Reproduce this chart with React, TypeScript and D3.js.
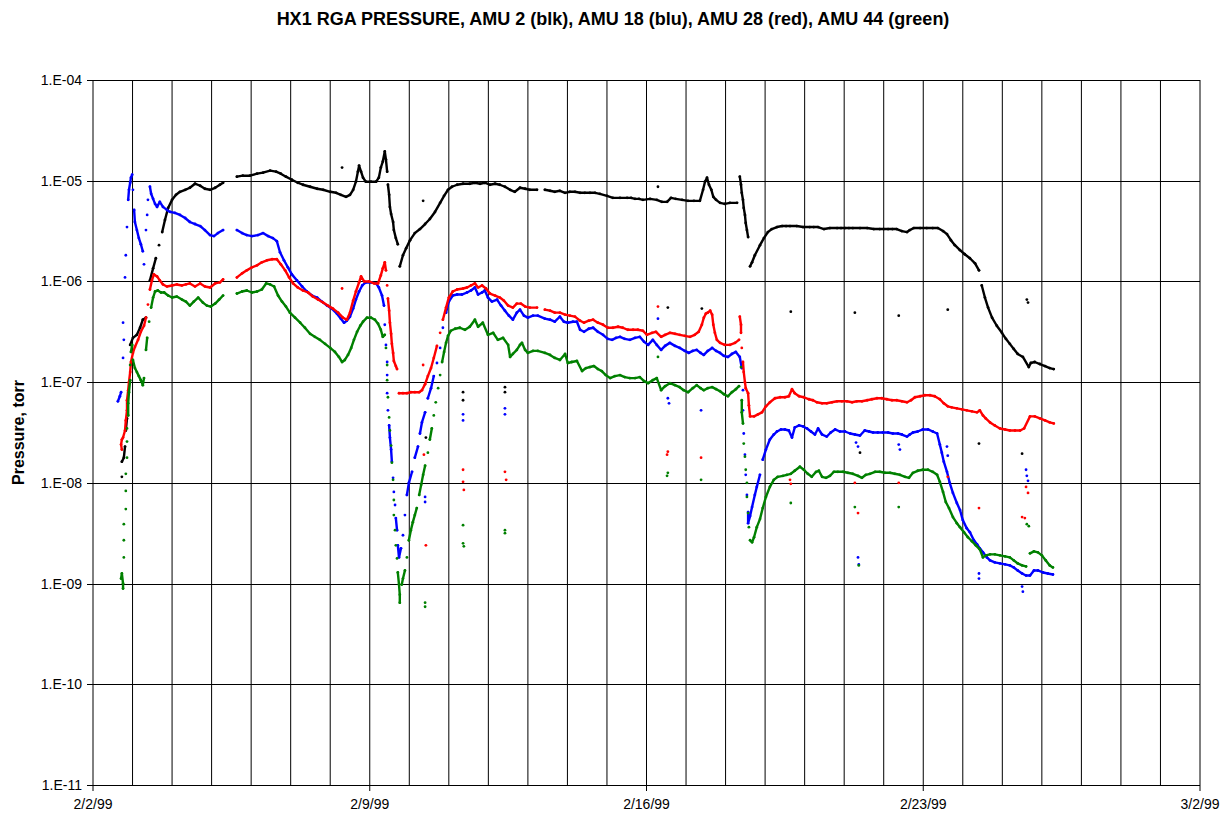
import React from "react";
import * as d3 from "d3";

// x: days since 2/2/99 00:00, y: log10(pressure, torr)
const xTickDays = [0, 7, 14, 21, 28];
const xTickLabels = ["2/2/99", "2/9/99", "2/16/99", "2/23/99", "3/2/99"];
const yTickValues = [1e-4, 1e-5, 1e-6, 1e-7, 1e-8, 1e-9, 1e-10, 1e-11];
const yTickLabels = ["1.E-04", "1.E-05", "1.E-06", "1.E-07", "1.E-08", "1.E-09", "1.E-10", "1.E-11"];
const titleText = "HX1 RGA PRESSURE, AMU 2 (blk), AMU 18 (blu), AMU 28 (red), AMU 44 (green)";
const yAxisTitle = "Pressure, torr";

// AMU 2 (black)
const amu2: [number, number][] = [
  [0.73,-7.94],[0.73,-7.79],[0.78,-7.75],[0.81,-7.64],[0.83,-7.48],[0.86,-7.36],[0.94,-6.63],[1.01,-6.56],[1.11,-6.53],[1.19,-6.46],[1.26,-6.38],[1.34,-6.36],
  [1.44,-5.99],[1.52,-5.87],[1.59,-5.77],[1.67,-5.64],[1.75,-5.51],[1.82,-5.39],[1.90,-5.27],[2.00,-5.19],[2.10,-5.14],[2.20,-5.11],[2.33,-5.09],[2.45,-5.07],
  [2.58,-5.03],[2.71,-5.05],[2.83,-5.08],[2.96,-5.09],[3.09,-5.07],[3.21,-5.04],[3.29,-5.02],
  [3.64,-4.96],[3.79,-4.95],[3.97,-4.95],[4.15,-4.93],[4.30,-4.92],[4.48,-4.90],[4.63,-4.91],[4.75,-4.93],[4.88,-4.96],[5.03,-4.99],[5.18,-5.02],[5.31,-5.04],
  [5.49,-5.06],[5.67,-5.08],[5.82,-5.09],[6.00,-5.11],[6.15,-5.12],[6.27,-5.14],[6.40,-5.16],[6.50,-5.14],[6.58,-5.09],[6.65,-5.01],[6.70,-4.91],[6.73,-4.85],
  [6.78,-4.91],[6.83,-4.97],[6.90,-5.01],[7.03,-5.01],[7.16,-5.01],[7.23,-4.97],[7.28,-4.87],[7.33,-4.81],[7.38,-4.71],[7.41,-4.79],[7.44,-4.91],
  [7.46,-5.04],[7.49,-5.14],[7.51,-5.26],[7.54,-5.33],[7.59,-5.41],[7.61,-5.49],[7.66,-5.57],[7.71,-5.63],
  [7.76,-5.85],[7.84,-5.74],[7.92,-5.67],[8.02,-5.59],[8.14,-5.52],[8.27,-5.48],[8.40,-5.43],[8.52,-5.38],[8.65,-5.31],[8.78,-5.22],[8.88,-5.15],[8.98,-5.09],
  [9.08,-5.06],[9.21,-5.04],[9.36,-5.03],[9.53,-5.03],[9.66,-5.02],[9.79,-5.03],[9.91,-5.02],[10.04,-5.04],[10.17,-5.03],[10.29,-5.04],[10.42,-5.06],[10.55,-5.09],
  [10.67,-5.11],[10.80,-5.07],[10.93,-5.08],[11.05,-5.09],[11.23,-5.09],
  [11.43,-5.09],[11.56,-5.10],[11.68,-5.11],[11.81,-5.10],[11.94,-5.12],[12.06,-5.11],[12.19,-5.11],[12.32,-5.12],[12.44,-5.12],[12.57,-5.12],[12.70,-5.12],
  [12.82,-5.13],[13.00,-5.15],[13.15,-5.17],[13.33,-5.17],[13.51,-5.17],[13.61,-5.17],[13.71,-5.18],[13.81,-5.18],[13.91,-5.19],[14.09,-5.18],[14.26,-5.19],
  [14.39,-5.21],[14.52,-5.21],
  [14.62,-5.17],[14.74,-5.18],[14.90,-5.19],[15.05,-5.20],[15.20,-5.20],[15.35,-5.20],
  [15.43,-5.09],[15.48,-5.01],[15.53,-4.97],[15.58,-5.04],[15.64,-5.09],[15.69,-5.16],
  [15.76,-5.19],[15.86,-5.22],[15.98,-5.23],[16.11,-5.22],[16.29,-5.22],
  [16.36,-4.96],[16.39,-5.04],[16.41,-5.12],[16.44,-5.19],[16.46,-5.27],[16.49,-5.34],[16.51,-5.42],[16.54,-5.49],[16.57,-5.56],
  [16.62,-5.85],[16.67,-5.81],[16.74,-5.74],[16.87,-5.64],[16.97,-5.57],[17.07,-5.51],[17.17,-5.48],[17.30,-5.46],[17.43,-5.45],[17.53,-5.45],[17.63,-5.45],
  [17.80,-5.45],[17.96,-5.46],[18.13,-5.46],[18.23,-5.46],[18.34,-5.46],[18.49,-5.48],[18.64,-5.47],[18.82,-5.47],[18.92,-5.47],[19.02,-5.47],[19.12,-5.47],
  [19.22,-5.47],[19.40,-5.47],[19.58,-5.47],[19.75,-5.48],[19.90,-5.48],[20.00,-5.48],[20.11,-5.48],[20.22,-5.48],[20.33,-5.48],[20.46,-5.50],[20.59,-5.51],
  [20.66,-5.49],[20.76,-5.47],[20.92,-5.47],[21.09,-5.47],[21.24,-5.47],[21.37,-5.47],
  [21.50,-5.50],[21.60,-5.53],[21.70,-5.59],[21.80,-5.64],[21.93,-5.69],[22.05,-5.73],[22.18,-5.77],[22.31,-5.82],[22.41,-5.89],
  [22.48,-6.04],[22.56,-6.16],[22.64,-6.26],[22.74,-6.36],[22.86,-6.44],[22.99,-6.51],[23.09,-6.57],[23.19,-6.62],[23.29,-6.67],[23.39,-6.72],[23.52,-6.75],
  [23.67,-6.85],[23.72,-6.81],[23.82,-6.80],[23.95,-6.82],[24.08,-6.84],[24.20,-6.86],[24.30,-6.87],
];
const amu2Isolated: [number, number][] = [
  [6.30,-4.87],[8.35,-5.20],[8.42,-7.55],[9.36,-7.10],[9.36,-7.18],[10.42,-7.05],[10.42,-7.10],[14.29,-5.06],[14.54,-6.26],[15.40,-6.27],
  [17.65,-6.30],[19.27,-6.31],[19.40,-7.70],[20.38,-6.34],[21.62,-6.28],[23.62,-6.18],[23.65,-6.21],[22.41,-7.61],[23.50,-7.71],
];

// AMU 18 (blue)
const amu18: [number, number][] = [
  [0.63,-7.19],[0.68,-7.14],[0.71,-7.10],[0.76,-6.76],[0.78,-6.58],[0.76,-6.41],[0.81,-5.96],[0.83,-5.74],[0.86,-5.46],[0.89,-5.19],[0.91,-5.09],[0.94,-5.02],
  [0.96,-4.97],[0.99,-4.94],[1.01,-5.09],[1.04,-5.29],[1.06,-5.41],[1.11,-5.49],[1.16,-5.57],[1.21,-5.63],[1.26,-5.70],[1.29,-5.83],[1.34,-5.49],[1.37,-5.34],
  [1.39,-5.19],[1.44,-5.06],[1.47,-5.13],[1.52,-5.18],[1.57,-5.23],
  [1.62,-5.26],[1.69,-5.21],[1.77,-5.26],[1.87,-5.29],[1.95,-5.31],[2.07,-5.32],[2.20,-5.34],[2.33,-5.37],[2.45,-5.41],[2.58,-5.43],[2.71,-5.45],[2.83,-5.49],
  [2.96,-5.54],[3.06,-5.55],[3.16,-5.52],[3.29,-5.49],
  [3.64,-5.49],[3.77,-5.52],[3.89,-5.54],[4.02,-5.55],[4.17,-5.54],[4.30,-5.52],[4.43,-5.55],[4.55,-5.57],[4.65,-5.60],[4.73,-5.71],[4.83,-5.79],[4.93,-5.86],
  [5.03,-5.93],[5.16,-5.99],[5.29,-6.05],[5.41,-6.10],[5.54,-6.14],[5.67,-6.16],[5.79,-6.20],[5.92,-6.24],[6.04,-6.27],[6.17,-6.32],[6.27,-6.37],[6.35,-6.41],
  [6.42,-6.39],[6.50,-6.35],[6.58,-6.27],[6.65,-6.18],[6.73,-6.10],[6.81,-6.04],[6.90,-6.01],[7.03,-6.01],[7.16,-6.02],[7.23,-6.06],[7.31,-6.14],[7.36,-6.24],
  [7.38,-6.43],[7.41,-6.63],[7.44,-6.80],[7.44,-6.93],[7.44,-7.11],[7.46,-7.28],[7.49,-7.43],[7.51,-7.55],[7.54,-7.67],[7.56,-7.79],[7.59,-7.95],[7.61,-8.09],
  [7.64,-8.22],[7.66,-8.35],[7.69,-8.47],[7.71,-8.62],[7.74,-8.74],[7.79,-8.65],[7.84,-8.52],[7.89,-8.32],[7.94,-8.12],[7.99,-8.00],[8.07,-7.89],[8.14,-7.75],
  [8.22,-7.64],[8.27,-7.51],[8.32,-7.40],[8.40,-7.30],[8.47,-7.16],[8.55,-7.06],[8.62,-6.94],[8.70,-6.81],[8.78,-6.66],[8.85,-6.46],[8.93,-6.31],[9.00,-6.20],
  [9.10,-6.14],[9.21,-6.13],[9.33,-6.13],[9.46,-6.11],[9.56,-6.09],[9.66,-6.06],[9.74,-6.13],[9.84,-6.11],[9.91,-6.09],[9.99,-6.16],[10.09,-6.20],[10.22,-6.18],
  [10.32,-6.24],[10.42,-6.29],[10.52,-6.34],[10.62,-6.38],[10.72,-6.31],[10.80,-6.28],[10.90,-6.34],[11.00,-6.36],[11.13,-6.34],[11.25,-6.34],
  [11.43,-6.37],[11.56,-6.38],[11.68,-6.40],[11.81,-6.35],[11.91,-6.40],[12.01,-6.41],[12.14,-6.40],[12.24,-6.40],[12.32,-6.48],[12.42,-6.50],[12.54,-6.47],
  [12.65,-6.46],[12.77,-6.50],[12.90,-6.53],[13.02,-6.57],[13.13,-6.58],[13.23,-6.56],[13.33,-6.55],[13.45,-6.57],[13.58,-6.58],[13.71,-6.56],[13.83,-6.55],
  [13.94,-6.60],[14.04,-6.63],[14.16,-6.58],[14.26,-6.63],
  [14.37,-6.68],[14.47,-6.64],[14.59,-6.61],[14.72,-6.64],[14.84,-6.66],[14.97,-6.69],[15.07,-6.71],[15.17,-6.69],[15.27,-6.68],[15.37,-6.71],[15.45,-6.73],
  [15.55,-6.69],[15.66,-6.66],[15.76,-6.69],[15.86,-6.71],[15.96,-6.74],[16.06,-6.75],[16.16,-6.72],[16.26,-6.70],[16.36,-6.75],
  [16.41,-6.86],[16.44,-7.08],[16.44,-7.28],[16.46,-7.51],[16.49,-7.72],[16.51,-7.92],[16.54,-8.12],[16.57,-8.29],[16.57,-8.40],[16.62,-8.33],[16.67,-8.24],
  [16.74,-8.12],[16.79,-8.04],[16.87,-7.92],[16.94,-7.77],[17.02,-7.67],[17.12,-7.57],[17.22,-7.52],[17.30,-7.49],[17.40,-7.47],[17.50,-7.47],[17.60,-7.48],
  [17.68,-7.55],[17.75,-7.45],[17.86,-7.43],[17.96,-7.44],[18.06,-7.46],[18.16,-7.49],[18.26,-7.52],[18.34,-7.46],[18.44,-7.52],[18.56,-7.54],[18.66,-7.50],
  [18.77,-7.47],[18.89,-7.49],[19.02,-7.49],[19.15,-7.51],[19.27,-7.52],[19.40,-7.53],[19.52,-7.48],[19.63,-7.49],[19.73,-7.50],[19.85,-7.50],[19.98,-7.50],
  [20.11,-7.50],[20.23,-7.51],[20.36,-7.51],[20.46,-7.52],[20.59,-7.54],[20.66,-7.52],[20.74,-7.50],[20.86,-7.49],[20.99,-7.47],[21.12,-7.47],[21.24,-7.49],
  [21.35,-7.51],[21.42,-7.62],[21.47,-7.70],[21.52,-7.79],[21.60,-7.89],[21.67,-8.00],[21.75,-8.10],[21.85,-8.20],[21.93,-8.27],[22.00,-8.37],[22.10,-8.45],
  [22.18,-8.49],[22.28,-8.57],[22.36,-8.61],[22.43,-8.65],[22.51,-8.69],[22.61,-8.74],[22.69,-8.77],[22.81,-8.79],[22.94,-8.80],[23.07,-8.81],[23.19,-8.82],
  [23.29,-8.84],[23.39,-8.87],[23.50,-8.90],[23.60,-8.92],[23.70,-8.92],[23.80,-8.87],[23.90,-8.87],[24.03,-8.89],[24.15,-8.90],[24.28,-8.91],
];
const amu18Isolated: [number, number][] = [
  [8.40,-8.14],[8.40,-8.19],[9.36,-7.32],[9.36,-7.38],[10.42,-7.26],[10.42,-7.32],[14.29,-6.37],[14.54,-7.16],[14.57,-7.21],[15.38,-7.28],
  [19.30,-7.60],[19.35,-7.64],[20.38,-7.62],[20.41,-7.67],[21.60,-7.64],[21.62,-7.73],[19.35,-8.74],[19.37,-8.81],[22.41,-8.90],[22.41,-8.95],
  [23.50,-9.03],[23.52,-9.08],[23.60,-7.87],[23.62,-7.93],[23.65,-7.98],
];

// AMU 28 (red)
const amu28: [number, number][] = [
  [0.73,-7.67],[0.71,-7.62],[0.73,-7.57],[0.76,-7.55],[0.81,-7.48],[0.83,-7.38],[0.86,-7.28],[0.86,-7.18],[0.89,-7.08],[0.91,-7.00],[0.94,-6.90],[0.96,-6.80],
  [1.01,-6.71],[1.06,-6.65],[1.14,-6.58],[1.21,-6.50],[1.29,-6.44],[1.34,-6.36],[1.39,-6.23],[1.44,-6.08],[1.49,-5.99],[1.54,-5.93],
  [1.62,-5.95],[1.69,-5.99],[1.77,-6.03],[1.87,-6.05],[2.00,-6.04],[2.12,-6.03],[2.25,-6.04],[2.35,-6.03],[2.45,-6.02],[2.58,-6.05],[2.71,-6.02],[2.83,-6.05],
  [2.96,-6.06],[3.09,-6.02],[3.21,-6.01],[3.29,-5.98],
  [3.64,-5.96],[3.77,-5.92],[3.89,-5.89],[4.02,-5.86],[4.15,-5.84],[4.27,-5.81],[4.40,-5.79],[4.53,-5.78],[4.65,-5.78],[4.75,-5.83],[4.86,-5.89],[4.96,-5.96],
  [5.06,-6.02],[5.18,-6.06],[5.31,-6.09],[5.44,-6.11],[5.56,-6.15],[5.69,-6.18],[5.82,-6.21],[5.94,-6.24],[6.07,-6.27],[6.20,-6.31],[6.32,-6.36],[6.42,-6.38],
  [6.50,-6.31],[6.58,-6.19],[6.65,-6.10],[6.73,-6.01],[6.78,-5.95],[6.86,-6.00],[6.98,-6.00],[7.11,-6.02],[7.21,-6.02],[7.28,-5.94],[7.33,-5.87],[7.38,-5.81],
  [7.41,-5.89],[7.44,-6.04],[7.46,-6.17],[7.49,-6.29],[7.51,-6.41],[7.54,-6.52],[7.56,-6.62],[7.59,-6.71],[7.61,-6.79],[7.66,-6.84],[7.69,-6.87],
  [7.74,-7.11],[7.84,-7.11],[7.94,-7.11],[8.04,-7.10],[8.14,-7.10],[8.25,-7.10],[8.32,-7.08],
  [8.40,-7.02],[8.47,-6.94],[8.55,-6.86],[8.62,-6.76],[8.70,-6.64],[8.78,-6.51],[8.85,-6.38],[8.93,-6.26],[9.00,-6.16],[9.10,-6.10],[9.21,-6.08],[9.36,-6.07],
  [9.46,-6.06],[9.56,-6.04],[9.66,-6.02],[9.74,-6.06],[9.84,-6.04],[9.94,-6.07],[10.04,-6.12],[10.17,-6.14],[10.29,-6.16],[10.39,-6.19],[10.50,-6.24],[10.62,-6.26],
  [10.72,-6.22],[10.82,-6.22],[10.93,-6.25],[11.05,-6.26],[11.23,-6.26],
  [11.43,-6.28],[11.56,-6.29],[11.68,-6.31],[11.81,-6.31],[11.94,-6.33],[12.06,-6.34],[12.19,-6.35],[12.32,-6.39],[12.42,-6.41],[12.54,-6.39],[12.65,-6.38],
  [12.77,-6.41],[12.90,-6.43],[13.02,-6.46],[13.15,-6.46],[13.28,-6.45],[13.40,-6.46],[13.53,-6.48],[13.66,-6.48],[13.78,-6.48],[13.91,-6.49],[14.01,-6.53],
  [14.14,-6.51],[14.24,-6.50],
  [14.37,-6.55],[14.47,-6.53],[14.59,-6.51],[14.72,-6.52],[14.84,-6.53],[14.97,-6.54],[15.10,-6.55],[15.22,-6.53],[15.32,-6.50],
  [15.40,-6.43],[15.45,-6.36],[15.50,-6.32],[15.55,-6.31],[15.61,-6.29],[15.66,-6.33],[15.69,-6.43],[15.73,-6.51],[15.78,-6.58],[15.86,-6.61],[15.98,-6.63],
  [16.11,-6.63],[16.24,-6.61],[16.34,-6.58],
  [16.36,-6.35],[16.39,-6.43],[16.39,-6.51],[16.41,-6.66],[16.44,-6.80],[16.46,-6.90],[16.49,-7.00],[16.51,-7.06],[16.57,-7.11],[16.59,-7.23],[16.62,-7.34],
  [16.72,-7.34],[16.82,-7.32],[16.92,-7.30],[17.02,-7.24],[17.12,-7.20],[17.25,-7.16],[17.38,-7.15],[17.50,-7.15],[17.60,-7.14],[17.68,-7.07],[17.75,-7.11],
  [17.86,-7.14],[17.98,-7.15],[18.11,-7.17],[18.21,-7.18],[18.31,-7.20],[18.44,-7.21],[18.56,-7.21],[18.69,-7.20],[18.82,-7.19],[18.94,-7.19],[19.07,-7.19],
  [19.20,-7.20],[19.32,-7.19],[19.45,-7.19],[19.58,-7.18],[19.70,-7.17],[19.83,-7.16],[19.95,-7.16],[20.08,-7.17],[20.21,-7.18],[20.33,-7.18],[20.46,-7.19],
  [20.59,-7.20],[20.69,-7.18],[20.79,-7.15],[20.92,-7.14],[21.04,-7.13],[21.17,-7.13],[21.29,-7.14],[21.42,-7.17],[21.52,-7.21],[21.62,-7.24],[21.72,-7.25],
  [21.85,-7.26],[21.98,-7.27],[22.10,-7.28],[22.23,-7.29],[22.36,-7.30],[22.43,-7.28],[22.51,-7.33],[22.58,-7.36],[22.69,-7.40],[22.81,-7.43],[22.94,-7.46],
  [23.07,-7.47],[23.19,-7.48],[23.32,-7.48],[23.45,-7.48],[23.55,-7.46],
  [23.70,-7.34],[23.82,-7.34],[23.95,-7.36],[24.08,-7.38],[24.20,-7.40],[24.30,-7.41],
];
const amu28Isolated: [number, number][] = [
  [6.30,-6.07],[8.35,-6.83],[8.37,-7.72],[8.42,-8.62],[9.36,-7.87],[9.36,-7.99],[9.38,-8.07],[10.42,-7.89],[10.45,-7.97],[14.29,-6.25],
  [14.54,-7.69],[14.52,-7.72],[15.38,-7.75],[17.63,-7.97],[17.65,-8.01],[19.27,-8.00],[19.35,-8.30],[20.38,-8.00],[21.62,-7.94],[22.41,-8.25],
  [23.60,-8.04],[23.65,-8.10],[23.50,-8.34],[23.57,-8.35],
];

// AMU 44 (green)
const amu44: [number, number][] = [
  [0.71,-8.95],[0.73,-8.90],[0.76,-9.00],[0.76,-9.05],[0.78,-8.74],[0.78,-8.57],[0.78,-8.41],[0.83,-8.26],[0.83,-8.08],[0.83,-7.91],[0.86,-7.75],[0.86,-7.59],
  [0.86,-7.46],[0.89,-7.33],[0.89,-7.21],[0.91,-7.10],[0.94,-6.98],[0.94,-6.83],[0.96,-6.70],[0.99,-6.63],[1.01,-6.78],[1.06,-6.86],[1.11,-6.90],[1.16,-6.94],
  [1.21,-6.98],[1.26,-7.03],[1.29,-6.96],[1.34,-6.68],[1.37,-6.56],[1.42,-6.40],[1.47,-6.26],[1.52,-6.16],[1.57,-6.10],
  [1.64,-6.09],[1.72,-6.11],[1.80,-6.11],[1.90,-6.14],[2.00,-6.16],[2.12,-6.15],[2.25,-6.18],[2.35,-6.20],[2.45,-6.24],[2.55,-6.20],[2.66,-6.16],[2.78,-6.21],
  [2.88,-6.24],[2.98,-6.25],[3.09,-6.22],[3.19,-6.18],[3.29,-6.14],
  [3.64,-6.12],[3.77,-6.10],[3.89,-6.09],[4.02,-6.11],[4.15,-6.10],[4.27,-6.08],[4.38,-6.02],[4.48,-6.03],[4.58,-6.05],[4.68,-6.14],[4.78,-6.20],[4.88,-6.25],
  [4.98,-6.31],[5.11,-6.36],[5.24,-6.41],[5.36,-6.46],[5.49,-6.52],[5.61,-6.55],[5.74,-6.58],[5.87,-6.62],[6.00,-6.66],[6.12,-6.70],[6.22,-6.75],[6.30,-6.80],
  [6.37,-6.78],[6.45,-6.73],[6.53,-6.66],[6.60,-6.58],[6.68,-6.50],[6.76,-6.44],[6.83,-6.40],[6.93,-6.36],[7.03,-6.36],[7.13,-6.38],[7.21,-6.42],[7.28,-6.48],
  [7.33,-6.55],[7.38,-6.53],
  [7.41,-6.66],[7.44,-6.83],[7.44,-6.98],[7.46,-7.15],[7.49,-7.35],[7.51,-7.48],[7.54,-7.63],[7.56,-7.80],[7.59,-7.97],[7.61,-8.17],[7.61,-8.32],[7.64,-8.47],
  [7.66,-8.62],[7.69,-8.75],[7.71,-8.89],[7.74,-9.01],[7.76,-9.11],[7.76,-9.19],[7.81,-9.01],[7.84,-8.95],[7.89,-8.87],[7.94,-8.74],[7.99,-8.57],[8.04,-8.47],
  [8.09,-8.39],[8.14,-8.32],[8.19,-8.25],[8.25,-8.12],[8.30,-8.02],[8.35,-7.92],[8.40,-7.83],[8.47,-7.70],[8.52,-7.57],[8.57,-7.46],[8.62,-7.33],[8.67,-7.20],
  [8.73,-7.06],[8.78,-6.93],[8.83,-6.80],[8.88,-6.70],[8.93,-6.61],[8.98,-6.54],[9.05,-6.49],[9.16,-6.47],[9.28,-6.46],[9.41,-6.48],[9.53,-6.45],[9.66,-6.38],
  [9.74,-6.45],[9.86,-6.41],[9.99,-6.53],[10.12,-6.51],[10.24,-6.58],[10.37,-6.56],[10.50,-6.63],[10.55,-6.75],[10.62,-6.72],[10.72,-6.68],[10.80,-6.63],
  [10.85,-6.61],[10.93,-6.68],[11.00,-6.71],[11.13,-6.69],[11.25,-6.69],
  [11.43,-6.71],[11.56,-6.73],[11.68,-6.76],[11.81,-6.78],[11.94,-6.72],[12.01,-6.81],[12.11,-6.80],[12.24,-6.79],[12.37,-6.89],[12.47,-6.86],[12.57,-6.85],
  [12.67,-6.84],[12.77,-6.87],[12.87,-6.89],[12.97,-6.93],[13.08,-6.96],[13.20,-6.94],[13.33,-6.93],[13.45,-6.95],[13.58,-6.96],[13.71,-6.96],[13.83,-6.95],
  [13.94,-6.99],[14.04,-7.01],[14.16,-6.98],[14.26,-6.96],
  [14.37,-7.08],[14.47,-7.04],[14.59,-7.01],[14.72,-7.03],[14.84,-7.05],[14.94,-7.08],[15.05,-7.10],[15.17,-7.06],[15.27,-7.03],[15.37,-7.06],[15.45,-7.08],
  [15.55,-7.06],[15.66,-7.05],[15.76,-7.07],[15.86,-7.09],[15.96,-7.12],[16.06,-7.14],[16.16,-7.10],[16.26,-7.07],[16.34,-7.04],
  [16.39,-6.85],[16.41,-7.18],[16.41,-7.30],[16.44,-7.41],[16.46,-7.61],[16.49,-7.74],[16.51,-7.87],[16.54,-8.00],[16.54,-8.14],[16.57,-8.30],[16.59,-8.44],
  [16.62,-8.57],[16.67,-8.59],[16.72,-8.54],[16.79,-8.44],[16.87,-8.36],[16.94,-8.25],[17.02,-8.14],[17.12,-8.04],[17.22,-7.97],[17.32,-7.94],[17.45,-7.93],
  [17.55,-7.92],[17.65,-7.91],[17.75,-7.88],[17.88,-7.84],[17.98,-7.87],[18.08,-7.91],[18.18,-7.94],[18.29,-7.89],[18.36,-7.88],[18.44,-7.94],[18.54,-7.95],
  [18.64,-7.93],[18.74,-7.89],[18.84,-7.89],[18.97,-7.89],[19.09,-7.90],[19.22,-7.91],[19.35,-7.93],[19.45,-7.95],[19.55,-7.92],[19.65,-7.91],[19.78,-7.89],
  [19.90,-7.89],[20.03,-7.90],[20.16,-7.90],[20.28,-7.91],[20.41,-7.92],[20.54,-7.94],[20.64,-7.95],[20.74,-7.90],[20.86,-7.88],[20.99,-7.87],[21.12,-7.87],
  [21.24,-7.89],[21.35,-7.92],[21.42,-7.99],[21.50,-8.09],[21.57,-8.19],[21.65,-8.25],[21.75,-8.34],[21.85,-8.40],[21.93,-8.44],[22.03,-8.49],[22.13,-8.54],
  [22.23,-8.58],[22.33,-8.62],[22.43,-8.66],[22.51,-8.74],[22.58,-8.72],[22.69,-8.71],[22.81,-8.71],[22.94,-8.72],[23.07,-8.73],[23.19,-8.74],[23.29,-8.77],
  [23.39,-8.80],[23.50,-8.82],[23.60,-8.83],[23.70,-8.70],[23.80,-8.68],[23.90,-8.69],[24.00,-8.72],[24.10,-8.77],[24.20,-8.82],[24.28,-8.84],
];
const amu44Isolated: [number, number][] = [
  [8.40,-9.19],[8.40,-9.23],[9.36,-8.42],[9.36,-8.60],[9.38,-8.63],[10.42,-8.47],[10.42,-8.50],[14.29,-6.75],[14.54,-7.90],[14.52,-7.93],[15.38,-7.97],
  [17.65,-8.20],[19.27,-8.24],[19.37,-8.82],[20.38,-8.24],[23.62,-8.41],[23.67,-8.43],
];

const W = 1226, H = 818;
const PL = 93, PR = 1200, PT = 80, PB = 785;
const FONT = "Arial, 'Liberation Sans', Helvetica, sans-serif";

export default function App() {
  const x = d3.scaleLinear().domain([0, 28]).range([PL, PR]);
  const y = d3.scaleLog().domain([1e-11, 1e-4]).range([PB, PT]);
  const px = (d: [number, number]) => x(d[0]);
  const py = (d: [number, number]) => y(Math.pow(10, d[1]));
  const line = d3.line<[number, number]>().x(px).y(py);

  const series = [
    { data: amu2, iso: amu2Isolated, color: "#000000" },
    { data: amu18, iso: amu18Isolated, color: "#0000ff" },
    { data: amu28, iso: amu28Isolated, color: "#ff0000" },
    { data: amu44, iso: amu44Isolated, color: "#008000" },
  ];

  const segmentsOf = (pts: [number, number][]) => {
    const segs: [number, number][][] = [];
    let cur: [number, number][] = [pts[0]];
    for (let i = 1; i < pts.length; i++) {
      const a = pts[i - 1], b = pts[i];
      const dx = Math.abs(px(b) - px(a)), dy = Math.abs(py(b) - py(a));
      if (dx < 7.5 && dy < 12.5) cur.push(b);
      else { segs.push(cur); cur = [b]; }
    }
    segs.push(cur);
    return segs.filter((s) => s.length > 1);
  };

  const days = d3.range(0, 29);

  return (
    <svg width={W} height={H} style={{ position: "absolute", left: 0, top: 0, background: "#fff" }} fontFamily={FONT}>
      <rect x={0} y={0} width={W} height={H} fill="#fff" />
      <text x={613} y={25} textAnchor="middle" fontSize={18} fontWeight="bold">{titleText}</text>
      {/* vertical day gridlines */}
      {days.map((d) => (
        <line key={"v" + d} x1={x(d)} x2={x(d)} y1={PT} y2={PB} stroke="#000" strokeWidth={1} />
      ))}
      {/* horizontal gridlines */}
      {yTickValues.map((v, i) => (
        <g key={"h" + i}>
          <line x1={PL - 6} x2={PR} y1={Math.round(y(v)) + 0.5} y2={Math.round(y(v)) + 0.5} stroke="#000" strokeWidth={1} />
          <text x={82} y={y(v) + 5} textAnchor="end" fontSize={14}>{yTickLabels[i]}</text>
        </g>
      ))}
      {xTickDays.map((d, i) => (
        <g key={"xt" + i}>
          <line x1={x(d)} x2={x(d)} y1={PB} y2={PB + 6} stroke="#000" />
          <text x={x(d)} y={PB + 24} textAnchor="middle" fontSize={14}>{xTickLabels[i]}</text>
        </g>
      ))}
      <text transform={`translate(24,${(PT + PB) / 2}) rotate(-90)`} textAnchor="middle" fontSize={16} fontWeight="bold">{yAxisTitle}</text>
      {series.map((s, si) => (
        <g key={"s" + si}>
          {segmentsOf(s.data).map((seg, k) => (
            <path key={k} d={line(seg) || ""} fill="none" stroke={s.color} strokeWidth={2.4} strokeLinejoin="round" strokeLinecap="round" />
          ))}
          {s.data.map((d, k) => (
            <circle key={"p" + k} cx={px(d)} cy={py(d)} r={1.4} fill={s.color} />
          ))}
          {s.iso.map((d, k) => (
            <circle key={"i" + k} cx={px(d)} cy={py(d)} r={1.4} fill={s.color} />
          ))}
        </g>
      ))}
    </svg>
  );
}
